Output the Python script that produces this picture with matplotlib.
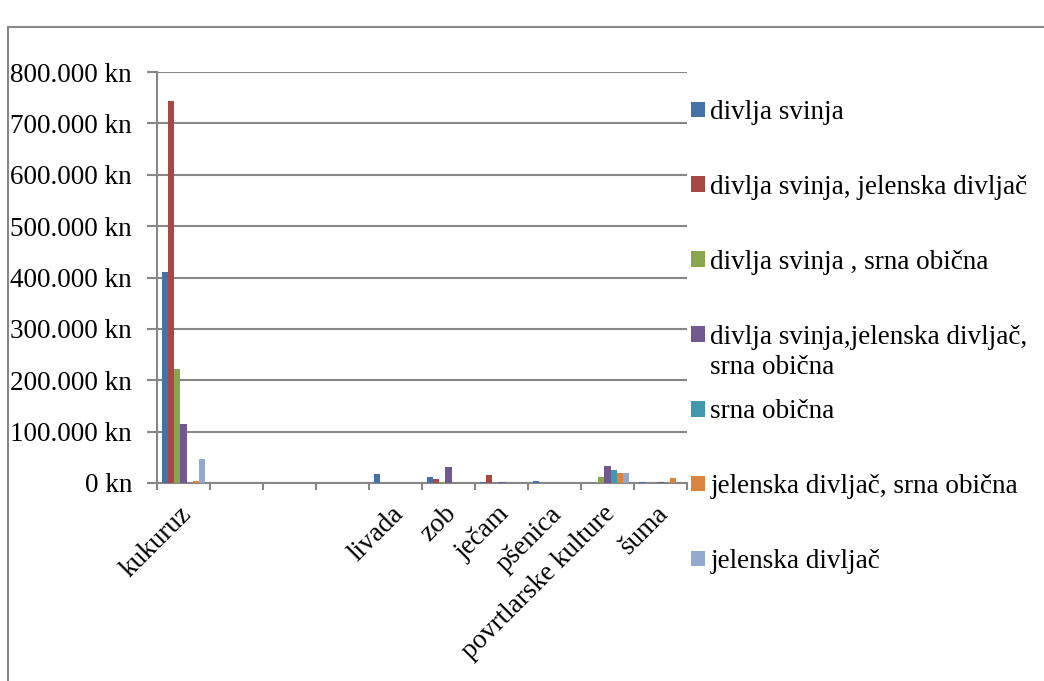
import matplotlib
matplotlib.use("Agg")
import matplotlib.pyplot as plt
import numpy as np
from matplotlib.patches import Rectangle
from matplotlib.ticker import FuncFormatter, FixedLocator
from matplotlib.transforms import ScaledTranslation

categories = ["kukuruz", "", "", "", "livada", "zob", "ječam", "pšenica",
              "povrtlarske kulture", "šuma"]

series_names = [
    "divlja svinja",
    "divlja svinja, jelenska divljač",
    "divlja svinja , srna obična",
    "divlja svinja,jelenska divljač,",
    "srna obična",
    "jelenska divljač, srna obična",
    "jelenska divljač",
]
series4_second_line = "srna obična"

divlja_svinja = [410000, 0, 0, 0, 18000, 11000, 2000, 3000, 0, 2000]
divlja_svinja_jelenska = [744000, 0, 0, 0, 0, 7000, 16000, 0, 0, 0]
divlja_svinja_srna = [222000, 0, 0, 0, 0, 1000, 0, 0, 12000, 0]
divlja_svinja_jelenska_srna = [115000, 0, 0, 0, 0, 32000, 2000, 0, 34000, 1500]
srna_obicna = [0, 0, 0, 0, 0, 0, 0, 0, 26000, 0]
jelenska_srna = [3000, 0, 0, 0, 0, 0, 0, 0, 18500, 9000]
jelenska_divljac = [46000, 0, 0, 0, 0, 0, 0, 0, 20000, 0]

series_values = [divlja_svinja, divlja_svinja_jelenska, divlja_svinja_srna,
                 divlja_svinja_jelenska_srna, srna_obicna, jelenska_srna,
                 jelenska_divljac]

colors = ["#4572A7", "#AA4643", "#89A54E", "#71588F", "#4198AF", "#DB843D", "#93A9CF"]

plt.rcParams['font.family'] = ['Liberation Serif', 'DejaVu Serif']
FS = 19.5
grid_c = "#878787"

W, H = 1044, 681
fig = plt.figure(figsize=(W / 100, H / 100), dpi=100)

# outer chart border
fig.add_artist(Rectangle((7.5 / W, -0.05), 1.1, (H - 27) / H + 0.05,
                         transform=fig.transFigure, fill=False,
                         edgecolor=grid_c, linewidth=1.5))

ax = fig.add_axes([157 / W, (H - 483) / H, (687 - 157) / W, (483 - 72) / H])

n_cat = len(categories)
n_ser = len(series_values)
x = np.arange(n_cat)
bw = 1 / 8.7
for i, (name, vals, c) in enumerate(zip(series_names, series_values, colors)):
    ax.bar(x + (i - (n_ser - 1) / 2) * bw, vals, width=bw, color=c,
           label=name, linewidth=0, zorder=3)

ax.set_xlim(-0.5, n_cat - 0.5)
ax.set_ylim(0, 800000)
ax.set_yticks(np.arange(0, 800001, 100000))
ax.yaxis.set_major_formatter(FuncFormatter(
    lambda v, p: f"{int(round(v)):,}".replace(",", ".") + " kn"))
ax.yaxis.grid(True, color=grid_c, linewidth=1.5, zorder=0)
ax.set_axisbelow(True)

ax.xaxis.set_major_locator(FixedLocator(x))
ax.set_xticklabels(categories)
ax.xaxis.set_minor_locator(FixedLocator(np.arange(-0.5, n_cat, 1)))
ax.tick_params(axis='x', which='major', length=0, labelsize=FS, pad=8)
ax.tick_params(axis='x', which='minor', length=5, width=1.5, color=grid_c)
ax.tick_params(axis='y', length=7, width=1.5, color=grid_c, labelsize=FS, pad=11)
offset = ScaledTranslation(4 / 100, -16 / 100, fig.dpi_scale_trans)
for lab in ax.get_xticklabels():
    lab.set_rotation(45)
    lab.set_ha('right')
    lab.set_va('center')
    lab.set_rotation_mode('anchor')
    lab.set_transform(lab.get_transform() + offset)

for s in ['top', 'right']:
    ax.spines[s].set_visible(False)
for s in ['left', 'bottom']:
    ax.spines[s].set_color(grid_c)
    ax.spines[s].set_linewidth(1.5)

handles, labels = ax.get_legend_handles_labels()
leg = fig.legend(handles, labels, bbox_to_anchor=(691 / W, 1 - 100 / H),
                 frameon=False, fontsize=FS, handlelength=0.52, handleheight=0.52,
                 handletextpad=0.2, labelspacing=1.84, borderpad=0, borderaxespad=0,
                 loc='upper left')

fig.canvas.draw()
bb = leg.get_texts()[3].get_window_extent()
fig.text(bb.x0 / W, (bb.y0 - 30) / H, series4_second_line, fontsize=FS,
         ha='left', va='bottom')

fig.savefig("out.png", dpi=100)
